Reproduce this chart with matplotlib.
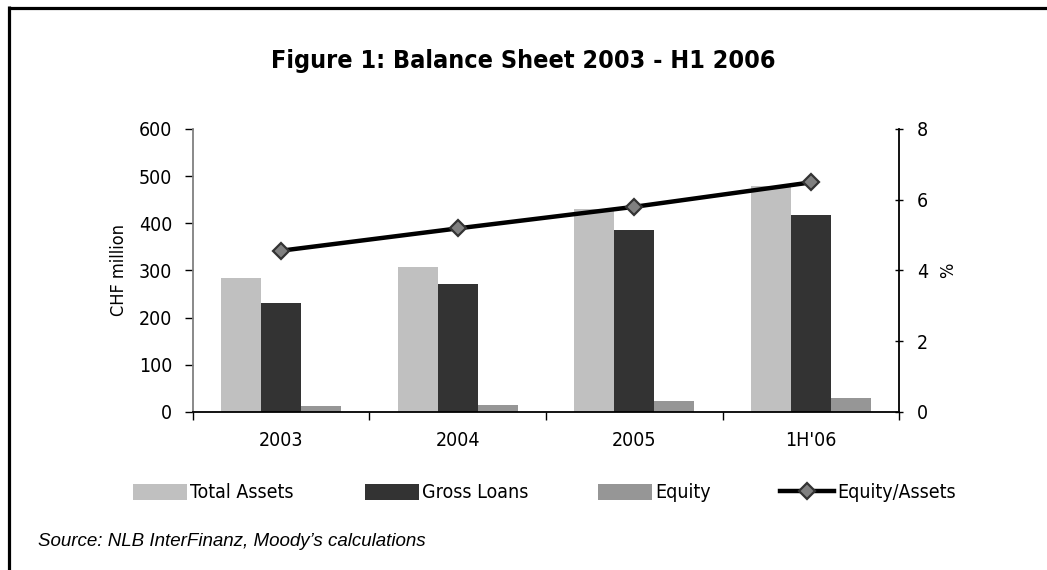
import matplotlib.pyplot as plt
import numpy as np
from matplotlib.font_manager import FontProperties
from matplotlib.lines import Line2D

periods = ["2003", "2004", "2005", "1H'06"]
total_assets = [284, 307, 430, 480]
gross_loans = [231, 271, 386, 418]
equity = [13, 15, 23, 30]
equity_to_assets = [4.56, 5.19, 5.80, 6.49]


def narrow(size, weight="normal"):
    return FontProperties(family="DejaVu Sans", stretch="condensed",
                          size=size, weight=weight)


def draw_frame(fig):
    w, h = fig.get_size_inches() * fig.dpi
    fig.add_artist(Line2D([8.5 / w, 1.0], [1 - 7.5 / h, 1 - 7.5 / h],
                          transform=fig.transFigure, color="black", lw=2.3,
                          solid_capstyle="butt"))
    fig.add_artist(Line2D([8.5 / w, 8.5 / w], [0.0, 1 - 6.0 / h],
                          transform=fig.transFigure, color="black", lw=2.3,
                          solid_capstyle="butt"))


def main():
    fig = plt.figure(figsize=(10.47, 5.70), dpi=100)
    ax = fig.add_axes([0.1843, 0.2772, 0.6744, 0.4965])
    ax2 = ax.twinx()

    x = np.arange(len(periods))
    width = 0.227
    ax.bar(x - width, total_assets, width, color="#c0c0c0", label="Total Assets")
    ax.bar(x, gross_loans, width, color="#333333", label="Gross Loans")
    ax.bar(x + width, equity, width, color="#969696", label="Equity")

    ax2.plot(x, equity_to_assets, color="black", lw=3.2, marker="D", ms=8,
             markerfacecolor="#808080", markeredgecolor="#333333",
             markeredgewidth=1.6, label="Equity/Assets", zorder=5)

    ax.set_xlim(-0.5, len(periods) - 0.5)
    ax.set_ylim(0, 600)
    ax2.set_ylim(0, 8)
    ax.set_yticks(range(0, 601, 100))
    ax2.set_yticks(range(0, 9, 2))
    ax.set_xticks(np.arange(len(periods) + 1) - 0.5)
    ax.set_xticklabels([])
    ax.set_xticks(x, minor=True)
    ax.set_xticklabels(periods, minor=True)
    ax.tick_params(axis="x", which="minor", length=0, pad=14)
    ax.tick_params(axis="x", which="major", length=6, direction="out", width=1)
    ax.tick_params(axis="y", length=6, direction="out", width=1, pad=9)
    ax2.tick_params(axis="y", length=6, direction="inout", width=1, pad=10)

    for lbl in ax.get_xticklabels(minor=True) + ax.get_yticklabels() + ax2.get_yticklabels():
        lbl.set_fontproperties(narrow(14))

    for side in ("top", "right"):
        ax.spines[side].set_visible(False)
    for side in ("top", "left", "bottom"):
        ax2.spines[side].set_visible(False)
    ax.spines["left"].set_color("#808080")
    ax.spines["left"].set_linewidth(1.3)
    ax.spines["bottom"].set_linewidth(1.3)
    ax2.spines["right"].set_linewidth(1.3)

    ax.set_ylabel("CHF million", fontproperties=narrow(13), labelpad=8)
    ax2.set_ylabel("%", fontproperties=narrow(13), labelpad=8)

    fig.text(0.5, 1 - 61 / 570, "Figure 1: Balance Sheet 2003 - H1 2006",
             ha="center", va="center", fontproperties=narrow(18, "bold"))

    # one legend per entry so each sits where it belongs on the row
    handles = ax.get_legend_handles_labels()[0] + ax2.get_legend_handles_labels()[0]
    labels = ["Total Assets", "Gross Loans", "Equity", "Equity/Assets"]
    starts = [133, 365, 598, 780]
    for handle, label, x0 in zip(handles, labels, starts):
        fig.legend([handle], [label], loc="center left",
                   bbox_to_anchor=(x0 / 1047, 1 - 493 / 570),
                   frameon=False, handlelength=2.8, handleheight=0.85,
                   handletextpad=0.15, borderaxespad=0, borderpad=0,
                   prop=narrow(14))

    fig.text(38 / 1047, 1 - 541 / 570, "Source: NLB InterFinanz, Moody\u2019s calculations",
             ha="left", va="center", fontfamily="Liberation Sans", style="italic",
             fontsize=13.5)

    draw_frame(fig)
    fig.savefig("out.png", dpi=100, facecolor="white")


if __name__ == "__main__":
    main()
